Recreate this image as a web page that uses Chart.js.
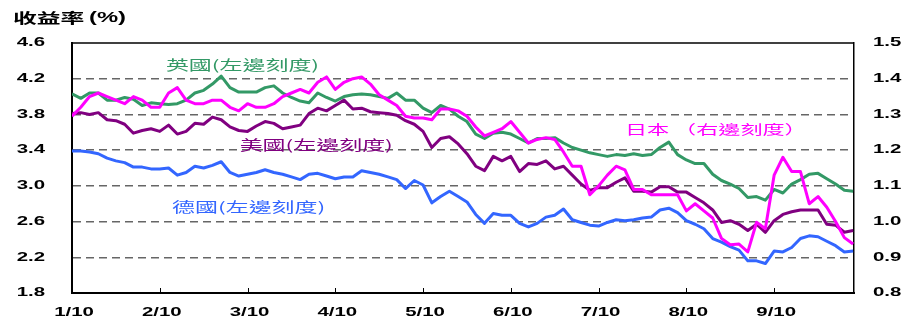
<!DOCTYPE html>
<html lang="zh-Hant">
<head>
<meta charset="utf-8">
<title>收益率</title>
<script src="https://cdn.jsdelivr.net/npm/chart.js@4.4.1/dist/chart.umd.min.js"></script>
<style>
  html, body { margin: 0; padding: 0; background: #fff; }
  #wrap { width: 908px; height: 327px; }
</style>
</head>
<body>
<div id="wrap"><canvas id="yieldChart" width="908" height="327"></canvas></div>
<script>
// month tick labels, one point every tenth of a month
const monthLabels = ["1/10", "2/10", "3/10", "4/10", "5/10", "6/10", "7/10", "8/10", "9/10"];
const POINTS_PER_MONTH = 10;

// 10-year government bond yields (%)
const ukYield = [
  4.03, 3.98, 4.04, 4.04, 3.96, 3.96, 3.99, 3.97, 3.90, 3.93,
  3.92, 3.91, 3.92, 3.96, 4.04, 4.07, 4.14, 4.23, 4.10, 4.05,
  4.05, 4.05, 4.10, 4.12, 4.04, 3.99, 3.95, 3.93, 4.04, 3.99,
  3.95, 4.00, 4.02, 4.03, 4.02, 4.00, 3.98, 4.04, 3.96, 3.96,
  3.87, 3.82, 3.90, 3.86, 3.78, 3.72, 3.58, 3.53, 3.59, 3.60,
  3.58, 3.53, 3.48, 3.53, 3.53, 3.54, 3.48, 3.43, 3.40, 3.37,
  3.35, 3.33, 3.35, 3.34, 3.36, 3.34, 3.35, 3.43, 3.49, 3.35,
  3.29, 3.25, 3.25, 3.13, 3.06, 3.02, 2.97, 2.87, 2.88, 2.84,
  2.96, 2.92, 3.02, 3.07, 3.13, 3.14, 3.08, 3.02, 2.95, 2.94
];

const usYield = [
  3.81, 3.82, 3.80, 3.82, 3.74, 3.73, 3.69, 3.59, 3.62, 3.64,
  3.61, 3.68, 3.58, 3.61, 3.70, 3.69, 3.77, 3.74, 3.66, 3.62,
  3.61, 3.67, 3.72, 3.70, 3.64, 3.66, 3.68, 3.81, 3.87, 3.84,
  3.90, 3.96, 3.86, 3.87, 3.83, 3.82, 3.81, 3.79, 3.73, 3.69,
  3.61, 3.43, 3.53, 3.55, 3.47, 3.36, 3.22, 3.17, 3.33, 3.28,
  3.33, 3.16, 3.25, 3.24, 3.28, 3.19, 3.22, 3.12, 3.02, 2.95,
  2.98, 2.98, 3.04, 3.09, 2.94, 2.94, 2.93, 2.99, 2.99, 2.93,
  2.93, 2.87, 2.81, 2.73, 2.59, 2.61, 2.57, 2.50, 2.57, 2.48,
  2.61, 2.68, 2.71, 2.73, 2.73, 2.73, 2.57, 2.56, 2.48, 2.50
];

const deYield = [
  3.39, 3.39, 3.38, 3.36, 3.31, 3.28, 3.26, 3.21, 3.21, 3.19,
  3.19, 3.20, 3.12, 3.15, 3.22, 3.20, 3.23, 3.27, 3.15, 3.11,
  3.13, 3.15, 3.18, 3.15, 3.13, 3.10, 3.07, 3.13, 3.14, 3.11,
  3.08, 3.10, 3.10, 3.17, 3.15, 3.13, 3.10, 3.07, 2.97, 3.06,
  3.01, 2.81, 2.88, 2.94, 2.88, 2.82, 2.68, 2.58, 2.69, 2.67,
  2.67, 2.58, 2.54, 2.58, 2.65, 2.67, 2.74, 2.62, 2.59, 2.56,
  2.55, 2.59, 2.62, 2.61, 2.62, 2.64, 2.65, 2.73, 2.75, 2.70,
  2.61, 2.57, 2.52, 2.41, 2.37, 2.32, 2.28, 2.16, 2.16, 2.13,
  2.27, 2.26, 2.31, 2.41, 2.44, 2.43, 2.38, 2.33, 2.26, 2.27
];

// Japan is read against the right-hand axis
const jpYield = [
  1.295, 1.32, 1.35, 1.36, 1.35, 1.34, 1.33, 1.35, 1.34, 1.32,
  1.32, 1.36, 1.375, 1.34, 1.33, 1.33, 1.34, 1.34, 1.32, 1.31,
  1.33, 1.32, 1.32, 1.33, 1.35, 1.36, 1.37, 1.36, 1.39, 1.405,
  1.37, 1.39, 1.40, 1.405, 1.385, 1.355, 1.34, 1.325, 1.295, 1.29,
  1.29, 1.285, 1.315, 1.315, 1.31, 1.295, 1.265, 1.24, 1.25, 1.26,
  1.28, 1.25, 1.22, 1.23, 1.235, 1.23, 1.195, 1.155, 1.155, 1.075,
  1.10, 1.13, 1.155, 1.145, 1.09, 1.09, 1.075, 1.075, 1.075, 1.075,
  1.03, 1.05, 1.03, 1.01, 0.953, 0.935, 0.937, 0.915, 0.998, 0.98,
  1.13, 1.18, 1.14, 1.14, 1.05, 1.07, 1.04, 1.00, 0.955, 0.937
];

const GREEN = "#339966";
const PURPLE = "#800080";
const BLUE = "#3366ff";
const MAGENTA = "#ff00ff";

// the whole figure is drawn horizontally stretched
const TEXT_STRETCH = 1.7;
const NUM_FONT = "bold 12px 'Liberation Sans', Arial, sans-serif";
const CJK_FONT = "13.5px 'Noto Sans CJK TC', sans-serif";
const CJK_FONT_RIGHT = "13px 'Noto Sans CJK TC', sans-serif";

// series captions, placed in month / left-axis units
const captions = [
  { text: "英國(左邊刻度)", color: GREEN, month: 1.07, value: 4.35, font: CJK_FONT },
  { text: "美國(左邊刻度)", color: PURPLE, month: 1.91, value: 3.46, font: CJK_FONT },
  { text: "德國(左邊刻度)", color: BLUE, month: 1.14, value: 2.77, font: CJK_FONT },
  { text: "日本 （右邊刻度）", color: MAGENTA, month: 6.30, value: 3.64, font: CJK_FONT_RIGHT }
];

function toPoints(values) {
  return values.map((v, i) => ({ x: i / POINTS_PER_MONTH, y: v }));
}

function drawStretched(ctx, text, x, y, align, font, color) {
  ctx.save();
  ctx.translate(x, y);
  ctx.scale(TEXT_STRETCH, 1);
  ctx.font = font;
  ctx.fillStyle = color;
  ctx.textAlign = align;
  ctx.textBaseline = "middle";
  ctx.fillText(text, 0, 0);
  ctx.restore();
}

function isEdge(value, a, b) {
  return Math.abs(value - a) < 1e-6 || Math.abs(value - b) < 1e-6;
}

const frameAndText = {
  id: "frameAndText",
  afterDraw(chart) {
    const { ctx, chartArea } = chart;
    const xScale = chart.scales.x;
    const yScale = chart.scales.y;
    const rightScale = chart.scales.y2;

    ctx.save();
    ctx.strokeStyle = "#000";
    ctx.lineWidth = 1.5;
    ctx.beginPath();
    ctx.moveTo(chartArea.left, chartArea.top);
    ctx.lineTo(chartArea.right, chartArea.top);
    ctx.stroke();

    // month marks point up into the plot
    ctx.lineWidth = 1;
    xScale.ticks.forEach((t) => {
      if (!Number.isInteger(t.value) || t.value === 0) return;
      const px = Math.round(xScale.getPixelForValue(t.value)) + 0.5;
      ctx.beginPath();
      ctx.moveTo(px, chartArea.bottom);
      ctx.lineTo(px, chartArea.bottom - 5);
      ctx.stroke();
    });
    ctx.restore();

    yScale.ticks.forEach((t) => {
      drawStretched(ctx, t.value.toFixed(1), yScale.right - 27, yScale.getPixelForValue(t.value), "right", NUM_FONT, "#000");
    });
    rightScale.ticks.forEach((t) => {
      drawStretched(ctx, t.value.toFixed(1), rightScale.left + 19, rightScale.getPixelForValue(t.value), "left", NUM_FONT, "#000");
    });
    xScale.ticks.forEach((t) => {
      const label = monthLabels[t.value];
      if (!Number.isInteger(t.value) || !label) return;
      drawStretched(ctx, label, xScale.getPixelForValue(t.value) + 2, chartArea.bottom + 20, "center", NUM_FONT, "#000");
    });

    drawStretched(ctx, "收益率", 13, 18, "left", "bold 14px 'Noto Sans CJK TC', sans-serif", "#000");
    drawStretched(ctx, "(%)", 89, 18, "left", "bold 14px 'Liberation Sans', Arial, sans-serif", "#000");

    captions.forEach((c) => {
      drawStretched(ctx, c.text, xScale.getPixelForValue(c.month), yScale.getPixelForValue(c.value), "left", c.font, c.color);
    });
  }
};

const lineStyle = {
  borderWidth: 3,
  pointRadius: 0,
  tension: 0,
  fill: false,
  borderJoinStyle: "round"
};

new Chart(document.getElementById("yieldChart"), {
  type: "line",
  data: {
    datasets: [
      { label: "日本", data: toPoints(jpYield), yAxisID: "y2", borderColor: MAGENTA, ...lineStyle },
      { label: "美國", data: toPoints(usYield), yAxisID: "y", borderColor: PURPLE, ...lineStyle },
      { label: "英國", data: toPoints(ukYield), yAxisID: "y", borderColor: GREEN, ...lineStyle },
      { label: "德國", data: toPoints(deYield), yAxisID: "y", borderColor: BLUE, ...lineStyle }
    ]
  },
  options: {
    responsive: false,
    animation: false,
    devicePixelRatio: 1,
    layout: { padding: { top: 43, left: 0, right: 0, bottom: 0 } },
    plugins: {
      legend: { display: false },
      tooltip: { enabled: false }
    },
    scales: {
      x: {
        type: "linear",
        min: 0,
        max: 8.91,
        ticks: { display: false, stepSize: 1 },
        grid: { display: false },
        border: { color: "#000", width: 2 },
        afterFit(scale) { scale.height = 34; }
      },
      y: {
        position: "left",
        min: 1.8,
        max: 4.6,
        ticks: { display: false, stepSize: 0.4 },
        grid: {
          color: (c) => (c.tick && isEdge(c.tick.value, 1.8, 4.6) ? "rgba(0,0,0,0)" : "#666"),
          lineWidth: 1.5,
          drawTicks: false
        },
        border: { color: "#000", width: 2, dash: [8, 5] },
        afterFit(scale) { scale.width = 72; }
      },
      y2: {
        position: "right",
        min: 0.8,
        max: 1.5,
        ticks: { display: false, stepSize: 0.1 },
        grid: { drawOnChartArea: false, drawTicks: false },
        border: { color: "#000", width: 1.5 },
        afterFit(scale) { scale.width = 54; }
      }
    }
  },
  plugins: [frameAndText]
});
</script>
</body>
</html>
